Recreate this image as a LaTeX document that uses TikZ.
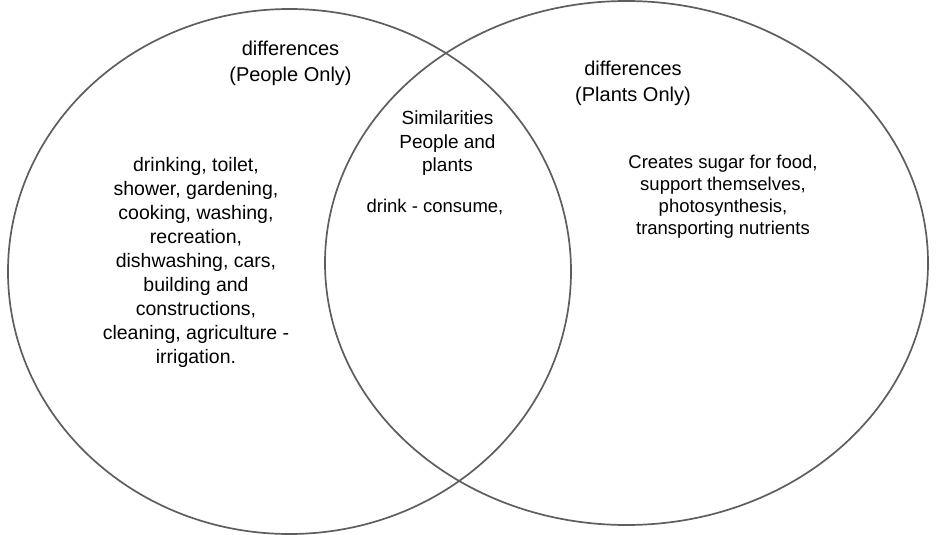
\documentclass[tikz,border=0pt]{standalone}
\usepackage{fontspec}
\setmainfont{Liberation Sans}
\usepackage{xcolor}
\usetikzlibrary{positioning}
\definecolor{ringgray}{HTML}{5E5E5E}

\begin{document}
\begin{tikzpicture}[
  x=1pt, y=-1pt,
  ring/.style={draw=ringgray, line width=1.7pt},
  headtxt/.style={align=center, font=\fontsize{20}{26}\selectfont},
  bodytxt/.style={align=center, font=\fontsize{19.5}{24}\selectfont},
  simtxt/.style={align=center, font=\fontsize{19}{23.5}\selectfont},
  planttxt/.style={align=center, font=\fontsize{18.5}{22}\selectfont}
]
\useasboundingbox (0,0) rectangle (950,535);

% the two sets
\draw[ring] (289.5,271.5) ellipse [x radius=281.5pt, y radius=262.5pt];
\draw[ring] (626.5,263) ellipse [x radius=301.5pt, y radius=262pt];

% people only
\node[headtxt] (pplhead) at (290.5,63) {differences\\(People Only)};
\node[bodytxt] (pplbody) at (196,262) {drinking, toilet,\\shower, gardening,\\cooking, washing,\\recreation,\\dishwashing, cars,\\building and\\constructions,\\cleaning, agriculture -\\irrigation.};

% both
\node[simtxt] (simhead) at (447.5,143.5) {Similarities\\People and\\plants};
\node[planttxt, below=16pt of simhead, xshift=-12.5pt] (simbody) {drink - consume,};

% plants only
\node[headtxt] (plthead) at (633,83) {differences\\(Plants Only)};
\node[planttxt] (pltbody) at (723,197) {Creates sugar for food,\\support themselves,\\photosynthesis,\\transporting nutrients};
\end{tikzpicture}
\end{document}
